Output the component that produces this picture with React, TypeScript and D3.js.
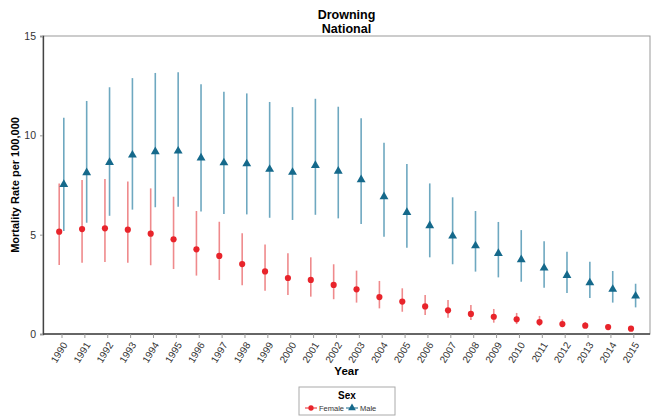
import React, {useEffect, useRef} from 'react'
import * as d3 from 'd3'

const years = d3.range(1990, 2016).map(String)

const femaleRate = [5.15, 5.28, 5.32, 5.25, 5.05, 4.77, 4.26, 3.93, 3.52, 3.15, 2.82, 2.72, 2.47, 2.25, 1.86, 1.63, 1.39, 1.19, 1.01, 0.87, 0.74, 0.6, 0.5, 0.42, 0.35, 0.27]
const femaleLow = [3.47, 3.59, 3.62, 3.59, 3.46, 3.27, 2.94, 2.72, 2.45, 2.18, 1.96, 1.88, 1.75, 1.58, 1.29, 1.12, 0.96, 0.82, 0.7, 0.57, 0.5, 0.4, 0.35, 0.32, 0.27, 0.2]
const femaleHigh = [7.58, 7.75, 7.8, 7.67, 7.33, 6.91, 6.19, 5.65, 5.07, 4.51, 4.06, 3.86, 3.51, 3.19, 2.67, 2.3, 1.96, 1.71, 1.46, 1.26, 1.06, 0.91, 0.74, 0.6, 0.49, 0.37]

const maleRate = [7.53, 8.12, 8.64, 9.01, 9.18, 9.21, 8.86, 8.62, 8.57, 8.29, 8.14, 8.49, 8.2, 7.77, 6.91, 6.12, 5.45, 4.93, 4.44, 4.06, 3.74, 3.32, 2.95, 2.58, 2.25, 1.91]
const maleLow = [5.18, 5.6, 5.95, 6.26, 6.38, 6.41, 6.16, 6.04, 6.02, 5.85, 5.74, 6.0, 5.82, 5.54, 4.9, 4.34, 3.86, 3.51, 3.14, 2.85, 2.63, 2.33, 2.06, 1.81, 1.58, 1.34]
const maleHigh = [10.89, 11.73, 12.42, 12.88, 13.14, 13.17, 12.57, 12.2, 12.11, 11.68, 11.42, 11.84, 11.44, 10.86, 9.63, 8.56, 7.58, 6.88, 6.19, 5.64, 5.23, 4.67, 4.14, 3.64, 3.17, 2.53]

const yTicks = [0, 5, 10, 15]

const W = 652, H = 416
const FONT = 'Arial, "Liberation Sans", sans-serif'

const App = () => {
	const ref = useRef<SVGSVGElement>(null)

	useEffect(() => {
		const svg = d3.select(ref.current)
		svg.selectAll('*').remove()

		const left = 43, right = 650, top = 36, bottom = 334

		const x = d3.scalePoint<string>().domain(years).range([61.5, 633.3])
		const y = d3.scaleLinear().domain([0, 15]).range([bottom, top])

		// frame
		svg.append('rect')
			.attr('x', left).attr('y', top)
			.attr('width', right - left).attr('height', bottom - top)
			.attr('fill', 'none').attr('stroke', '#999').attr('stroke-width', 1)

		// y axis
		const yAxis = svg.append('g')
			.attr('transform', `translate(${left},0)`)
			.call(d3.axisLeft(y).tickValues(yTicks).tickSize(3).tickPadding(4))
		yAxis.select('.domain').attr('stroke', '#444').attr('stroke-width', 1.3)
		yAxis.selectAll('line').attr('stroke', '#999')
		yAxis.selectAll('text').attr('font-family', FONT).attr('font-size', 10.5).attr('fill', '#333')

		// x axis
		const xAxis = svg.append('g')
			.attr('transform', `translate(0,${bottom})`)
			.call(d3.axisBottom(x).tickSize(4).tickPadding(3))
		xAxis.select('.domain').attr('d', `M${left},0H${right}`).attr('stroke', '#444').attr('stroke-width', 1.3)
		xAxis.selectAll('line').attr('stroke', '#999')
		xAxis.selectAll('text')
			.attr('font-family', FONT).attr('font-size', 10).attr('fill', '#333')
			.attr('text-anchor', 'end')
			.attr('x', 0).attr('y', 0)
			.attr('dy', '0.35em')
			.attr('transform', 'translate(3,9) rotate(-58)')

		const series = [
			{name: 'Female', rate: femaleRate, low: femaleLow, high: femaleHigh, dx: -2.3, bar: '#ef8a8c', mark: '#e8242b', shape: d3.symbolCircle, size: 30},
			{name: 'Male', rate: maleRate, low: maleLow, high: maleHigh, dx: 2.3, bar: '#6ea8c0', mark: '#15698b', shape: d3.symbolTriangle, size: 34},
		]

		series.forEach(s => {
			const g = svg.append('g')
			g.selectAll('line')
				.data(years)
				.enter()
				.append('line')
				.attr('x1', d => (x(d) as number) + s.dx)
				.attr('x2', d => (x(d) as number) + s.dx)
				.attr('y1', (d, i) => y(s.low[i]))
				.attr('y2', (d, i) => y(s.high[i]))
				.attr('stroke', s.bar).attr('stroke-width', 1.6)
			g.selectAll('path')
				.data(years)
				.enter()
				.append('path')
				.attr('d', d3.symbol().type(s.shape).size(s.size)())
				.attr('transform', (d, i) => `translate(${(x(d) as number) + s.dx},${y(s.rate[i])})`)
				.attr('fill', s.mark)
		})

		// titles
		const mid = (left + right) / 2
		svg.append('text').attr('x', mid).attr('y', 19).attr('text-anchor', 'middle')
			.attr('font-family', FONT).attr('font-weight', 'bold').attr('font-size', 12.5).text('Drowning')
		svg.append('text').attr('x', mid).attr('y', 33).attr('text-anchor', 'middle')
			.attr('font-family', FONT).attr('font-weight', 'bold').attr('font-size', 12.5).text('National')

		svg.append('text')
			.attr('transform', `translate(19,${(top + bottom) / 2}) rotate(-90)`)
			.attr('text-anchor', 'middle')
			.attr('font-family', FONT).attr('font-weight', 'bold').attr('font-size', 11)
			.text('Mortality Rate per 100,000')

		svg.append('text').attr('x', mid).attr('y', 375).attr('text-anchor', 'middle')
			.attr('font-family', FONT).attr('font-weight', 'bold').attr('font-size', 11.5).text('Year')

		// legend
		const lg = svg.append('g')
		lg.append('rect').attr('x', 299).attr('y', 387).attr('width', 96).attr('height', 28)
			.attr('fill', 'white').attr('stroke', '#aaa')
		lg.append('text').attr('x', 347).attr('y', 399).attr('text-anchor', 'middle')
			.attr('font-family', FONT).attr('font-weight', 'bold').attr('font-size', 10).text('Sex')
		const lx = [305, 346]
		series.forEach((s, i) => {
			lg.append('line').attr('x1', lx[i]).attr('x2', lx[i] + 12).attr('y1', 408).attr('y2', 408)
				.attr('stroke', s.mark).attr('stroke-width', 1)
			lg.append('path').attr('d', d3.symbol().type(s.shape).size(s.size - 8)())
				.attr('transform', `translate(${lx[i] + 6},408)`).attr('fill', s.mark)
			lg.append('text').attr('x', lx[i] + 14).attr('y', 410.5)
				.attr('font-family', FONT).attr('font-size', 7.5).attr('fill', '#333').text(s.name)
		})
	}, [])

	return (
		<svg ref={ref} width={W} height={H} style={{position: 'absolute', left: 0, top: 0, background: 'white'}} />
	)
}

export default App
